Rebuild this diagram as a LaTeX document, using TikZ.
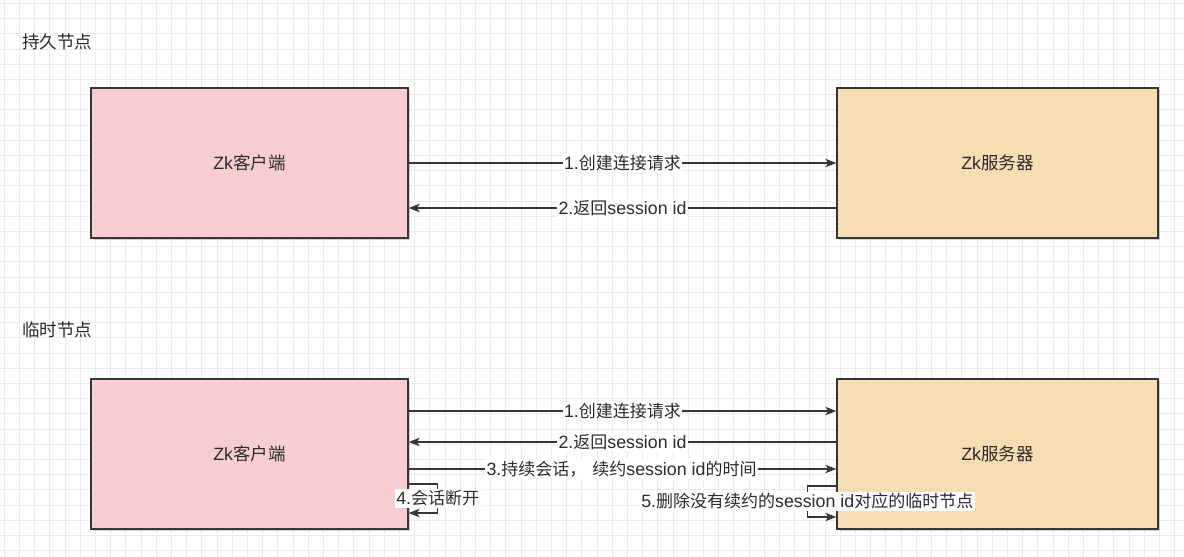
\documentclass[tikz,border=0pt]{standalone}
\usepackage{fontspec}
\setmainfont{Noto Sans CJK SC}
\newfontfamily\latf{Liberation Sans}
\newcommand\lat{\latf\fontsize{17.8pt}{20pt}\selectfont}
\usetikzlibrary{arrows.meta,shadows}
\definecolor{txt}{HTML}{2B2B2B}
\definecolor{edge}{HTML}{363636}
\definecolor{pinkfill}{HTML}{F8CDD1}
\definecolor{orangefill}{HTML}{F9DDB2}
\definecolor{gridc}{HTML}{EBEBEB}
\tikzset{
  gridline/.style={draw=gridc, line width=0.9pt},
  box/.style={draw=edge, line width=1.4pt, rectangle, minimum height=150pt, text=txt,
    font=\fontsize{17.5pt}{20pt}\selectfont, drop shadow={opacity=0.35, shadow xshift=1.6pt, shadow yshift=-1.6pt}},
  client/.style={box, fill=pinkfill, minimum width=317pt},
  server/.style={box, fill=orangefill, minimum width=321pt},
  arr/.style={draw=edge, line width=1.3pt, -{Stealth[length=11pt,width=8.5pt,inset=3pt]}},
  lbl/.style={fill=white, text=txt, inner sep=1.5pt, font=\fontsize{17pt}{20pt}\selectfont},
  title/.style={text=txt, anchor=west, inner sep=0pt, font=\fontsize{17.5pt}{20pt}\selectfont}
}
\begin{document}
\begin{tikzpicture}[x=1pt,y=-1pt]
\useasboundingbox (0,0) rectangle (1184,557);
\fill[white] (0,0) rectangle (1184,557);
\foreach \i in {0,...,77} \draw[gridline] ({4.2+15.2*\i},0) -- ({4.2+15.2*\i},557);
\foreach \j in {0,...,36} \draw[gridline] (0,{3.5+15.2*\j}) -- (1184,{3.5+15.2*\j});

\node[title] (t1) at (22,42) {持久节点};
\node[title] (t2) at (22,330) {临时节点};

\node[client] (c1) at (249.5,163) {{\lat Zk}客户端};
\node[server] (s1) at (997.5,163) {{\lat Zk}服务器};
\node[client] (c2) at (249.5,454) {{\lat Zk}客户端};
\node[server] (s2) at (997.5,454) {{\lat Zk}服务器};

\draw[arr] (c1.east) -- node[lbl]{{\lat 1.}创建连接请求} (s1.west);
\draw[arr] ([yshift=-45pt]s1.west) -- node[lbl]{{\lat 2.}返回{\lat session id}} ([yshift=-45pt]c1.east);

\draw[arr] ([yshift=43pt]c2.east) -- node[lbl]{{\lat 1.}创建连接请求} ([yshift=43pt]s2.west);
\draw[arr] ([yshift=12pt]s2.west) -- node[lbl]{{\lat 2.}返回{\lat session id}} ([yshift=12pt]c2.east);
\draw[arr] ([yshift=-15pt,xshift=-2pt]c2.east) -- node[lbl]{{\lat 3.}持续会话，\hspace{6pt}续约{\lat session id}的时间} ([yshift=-15pt]s2.west);

\draw[arr] ([yshift=-30pt]c2.east) -- ++(29,0) -- node[lbl]{{\lat 4.}会话断开} ++(0,29) -- ([yshift=-59pt]c2.east);
\draw[arr] ([yshift=-32pt]s2.west) -- ++(-29,0) -- node[lbl]{{\lat 5.}删除没有续约的{\lat session id}对应的临时节点} ++(0,31) -- ([yshift=-63pt]s2.west);
\end{tikzpicture}
\end{document}
